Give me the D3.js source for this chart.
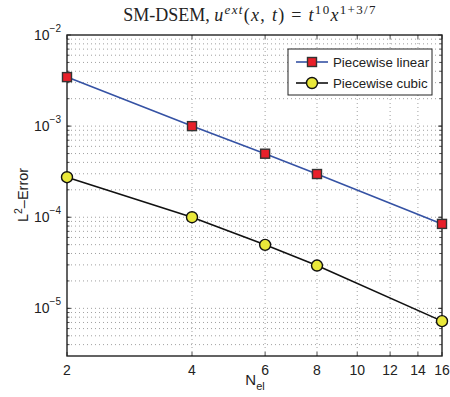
<!DOCTYPE html>
<html>
<head>
<meta charset="utf-8">
<script src="https://cdn.jsdelivr.net/npm/d3@7"></script>
<style>
  body { margin: 0; background: #fff; }
  text { font-family: "Liberation Sans", Arial, sans-serif; }
</style>
</head>
<body>
<div id="chart"></div>
<script>
// data
const nel = [2, 4, 6, 8, 16]
const linearErr = [3.45e-3, 1.0e-3, 4.98e-4, 2.98e-4, 8.45e-5]
const cubicErr = [2.75e-4, 1.0e-4, 4.98e-5, 2.95e-5, 7.24e-6]
const xTicks = [2, 4, 6, 8, 10, 12, 14, 16]
const yTicks = [1e-5, 1e-4, 1e-3, 1e-2]
const seriesNames = ["Piecewise linear", "Piecewise cubic"]

const W = 450, H = 397
const margin = {top: 35, right: 8, bottom: 41, left: 67}
const width = W - margin.left - margin.right,
      height = H - margin.top - margin.bottom

const svg = d3.select("#chart").append("svg")
    .attr("width", W)
    .attr("height", H)

const g = svg.append("g")
    .attr("transform", "translate(" + margin.left + "," + margin.top + ")")

const x = d3.scaleLog().domain([2, 16]).range([0, width])
const y = d3.scaleLog().domain([3e-6, 1e-2]).range([height, 0])

// grid - horizontal at all minor positions, vertical only at ticks
let minorY = []
for (let e = -6; e <= -3; e++) {
    for (let m = 1; m <= 9; m++) {
        let v = m * Math.pow(10, e)
        if (v > 3e-6 && v < 1e-2) minorY.push(v)
    }
}
g.selectAll(".hgrid").data(minorY).enter().append("line")
    .attr("x1", 0).attr("x2", width)
    .attr("y1", d => y(d)).attr("y2", d => y(d))
    .attr("stroke", "#888").attr("stroke-width", 0.8)
    .attr("stroke-dasharray", "1,3")

g.selectAll(".vgrid").data(xTicks.slice(1, -1)).enter().append("line")
    .attr("x1", d => x(d)).attr("x2", d => x(d))
    .attr("y1", 0).attr("y2", height)
    .attr("stroke", "#888").attr("stroke-width", 0.8)
    .attr("stroke-dasharray", "1,3")

// tick marks inside the box (all four sides)
const tl = 4
g.selectAll(".xt").data(xTicks).enter().append("path")
    .attr("d", d => "M" + x(d) + "," + height + "v" + (-tl) + "M" + x(d) + ",0v" + tl)
    .attr("stroke", "#222").attr("stroke-width", 0.8)
g.selectAll(".ytmaj").data(yTicks).enter().append("path")
    .attr("d", d => "M0," + y(d) + "h" + tl + "M" + width + "," + y(d) + "h" + (-tl))
    .attr("stroke", "#222").attr("stroke-width", 0.8)
g.selectAll(".ytmin").data(minorY).enter().append("path")
    .attr("d", d => "M0," + y(d) + "h2.5M" + width + "," + y(d) + "h-2.5")
    .attr("stroke", "#222").attr("stroke-width", 0.8)

// tick labels
g.selectAll(".xl").data(xTicks).enter().append("text")
    .attr("x", d => x(d)).attr("y", height + 19)
    .attr("text-anchor", "middle")
    .style("font-size", "14px").style("fill", "#222")
    .text(d => d)

const yl = g.selectAll(".yl").data(yTicks).enter().append("text")
    .attr("x", -6).attr("y", d => y(d) + 5)
    .attr("text-anchor", "end")
    .style("font-size", "14px").style("fill", "#222")
yl.append("tspan").text("10")
yl.append("tspan").attr("dy", -8).style("font-size", "10px")
    .text(d => "\u2212" + Math.round(-Math.log10(d)))

// lines
const line = d3.line().x(d => x(d[0])).y(d => y(d[1]))
const linData = nel.map((n, i) => [n, linearErr[i]])
const cubData = nel.map((n, i) => [n, cubicErr[i]])

g.append("path").datum(linData).attr("d", line)
    .attr("fill", "none").attr("stroke", "#3552a4").attr("stroke-width", 1.6)
g.append("path").datum(cubData).attr("d", line)
    .attr("fill", "none").attr("stroke", "#111").attr("stroke-width", 1.6)

// box
g.append("rect").attr("width", width).attr("height", height)
    .attr("fill", "none").attr("stroke", "#222").attr("stroke-width", 1.4)

// markers
const sq = 9
g.selectAll(".sq").data(linData).enter().append("rect")
    .attr("x", d => x(d[0]) - sq / 2).attr("y", d => y(d[1]) - sq / 2)
    .attr("width", sq).attr("height", sq)
    .attr("fill", "#e8202a").attr("stroke", "#333").attr("stroke-width", 1.4)
g.selectAll(".ci").data(cubData).enter().append("circle")
    .attr("cx", d => x(d[0])).attr("cy", d => y(d[1]))
    .attr("r", 5.5)
    .attr("fill", "#e9e83a").attr("stroke", "#111").attr("stroke-width", 1.4)

// legend
const lg = svg.append("g").attr("transform", "translate(288,49)")
lg.append("rect").attr("width", 144).attr("height", 46)
    .attr("fill", "#fff").attr("stroke", "#222").attr("stroke-width", 1)
const ly = [13, 34]
lg.append("line").attr("x1", 8).attr("x2", 40).attr("y1", ly[0]).attr("y2", ly[0])
    .attr("stroke", "#3552a4").attr("stroke-width", 1.6)
lg.append("rect").attr("x", 24 - sq / 2).attr("y", ly[0] - sq / 2).attr("width", sq).attr("height", sq)
    .attr("fill", "#e8202a").attr("stroke", "#333").attr("stroke-width", 1.4)
lg.append("line").attr("x1", 8).attr("x2", 40).attr("y1", ly[1]).attr("y2", ly[1])
    .attr("stroke", "#111").attr("stroke-width", 1.6)
lg.append("circle").attr("cx", 24).attr("cy", ly[1]).attr("r", 5.5)
    .attr("fill", "#e9e83a").attr("stroke", "#111").attr("stroke-width", 1.4)
lg.selectAll(".lt").data(seriesNames).enter().append("text")
    .attr("x", 45).attr("y", (d, i) => ly[i] + 5)
    .style("font-size", "13.3px").style("fill", "#222")
    .text(d => d)

// axis labels
const xlab = svg.append("text").attr("x", 255).attr("y", 385)
    .attr("text-anchor", "middle").style("font-size", "15px").style("fill", "#222")
xlab.append("tspan").text("N")
xlab.append("tspan").attr("dy", 5).style("font-size", "11px").text("el")

const ylab = svg.append("text")
    .attr("transform", "translate(28,195) rotate(-90)")
    .attr("text-anchor", "middle").style("font-size", "14.5px").style("fill", "#222")
ylab.append("tspan").text("L")
ylab.append("tspan").attr("dy", -6).style("font-size", "10.5px").text("2")
ylab.append("tspan").attr("dy", 6).text("\u2013Error")

// title
const serif = "'Liberation Serif', 'DejaVu Serif', serif"
const title = svg.append("text").attr("x", 250).attr("y", 21)
    .attr("text-anchor", "middle").style("font-family", serif)
    .style("font-size", "18px").style("fill", "#222")
title.append("tspan").text("SM-DSEM, ")
const math = title.append("tspan").style("letter-spacing", "1.3px")
math.append("tspan").style("font-style", "italic").text("u")
math.append("tspan").attr("dy", -7).style("font-size", "13px").style("font-style", "italic").text("ext")
math.append("tspan").attr("dy", 7).text("(")
math.append("tspan").style("font-style", "italic").text("x")
math.append("tspan").text(", ")
math.append("tspan").style("font-style", "italic").text("t")
math.append("tspan").text(") = ")
math.append("tspan").style("font-style", "italic").text("t")
math.append("tspan").attr("dy", -7).style("font-size", "13px").text("10")
math.append("tspan").attr("dy", 7).style("font-style", "italic").text("x")
math.append("tspan").attr("dy", -7).style("font-size", "13px").text("1+3/7")
</script>
</body>
</html>
